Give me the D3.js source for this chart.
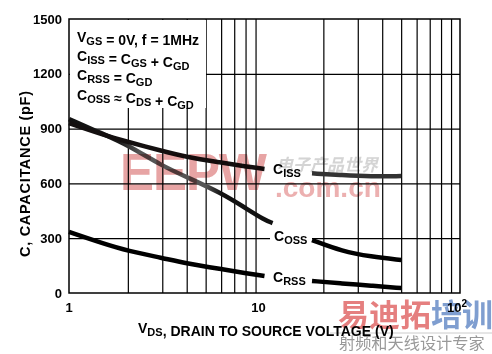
<!DOCTYPE html>
<html>
<head>
<meta charset="utf-8">
<script src="https://cdn.jsdelivr.net/npm/d3@7"></script>
<style>
  body { margin: 0; background: #fff; }
  svg text { font-family: "Liberation Sans", Arial, sans-serif; font-weight: bold; }
</style>
</head>
<body>
<div id="chart"></div>
<script>
// values (VDS in volts, C in pF)
var vdsLeft  = [1, 1.5, 2, 3, 4, 6, 8, 10];
var cissLeft = [930, 866, 827, 777, 744, 714, 692, 679];
var vdsCossLeft = [1, 1.5, 2, 3, 4, 6, 8, 10, 11];
var cossLeft = [952, 870, 810, 695, 635, 548, 465, 400, 383];
var crssLeft = [334, 270, 230, 192, 162, 131, 109, 93];

var vdsRight  = [17.5, 25, 35, 50];
var cissRight = [655, 645, 638, 640];
var cossRight = [290, 228, 199, 181];
var crssRight = [66, 52, 40, 27];

var xGridVals = [2, 3, 4, 5, 6, 7, 8, 9, 20, 30, 40, 50, 60, 70, 80, 90];
var yTicks = [0, 300, 600, 900, 1200, 1500];
var xTickLabels = [{v: 1, t: "1"}, {v: 10, t: "10"}, {v: 100, t: "10", sup: "2"}];

var legendLines = [
    [["V", "GS"], [" = 0V, f = 1MHz", ""]],
    [["C", "ISS"], [" = C", "GS"], [" + C", "GD"]],
    [["C", "RSS"], [" = C", "GD"]],
    [["C", "OSS"], [" \u2248 C", "DS"], [" + C", "GD"]]
];

var W = 492, H = 354,
    pL = 69, pR = 460, pT = 19, pB = 293;

var x = d3.scaleLog().domain([1, 100]).range([pL, pR]),
    y = d3.scaleLinear().domain([0, 1500]).range([pB, pT]);

var svg = d3.select("#chart").append("svg")
    .attr("width", W).attr("height", H);

// grid
svg.append("g")
    .attr("transform", "translate(0," + pB + ")")
    .call(d3.axisBottom(x).tickValues(xGridVals).tickSize(-(pB - pT)).tickFormat(""))
    .call(g => g.select(".domain").remove())
    .selectAll("line").attr("stroke", "#000").attr("stroke-width", 1.2);

svg.append("g")
    .attr("transform", "translate(" + pL + ",0)")
    .call(d3.axisLeft(y).tickValues(yTicks.slice(1, -1)).tickSize(-(pR - pL)).tickFormat(""))
    .call(g => g.select(".domain").remove())
    .selectAll("line").attr("stroke", "#000").attr("stroke-width", 1.2);

svg.append("rect")
    .attr("x", pL).attr("y", pT)
    .attr("width", pR - pL).attr("height", pB - pT)
    .attr("fill", "none").attr("stroke", "#000").attr("stroke-width", 1.5);

// white boxes behind the notes
svg.append("rect").attr("x", pL + 1).attr("y", pT + 1).attr("width", 136).attr("height", 88).attr("fill", "#fff");
svg.append("rect").attr("x", 269).attr("y", 160).attr("width", 40).attr("height", 20).attr("fill", "#fff");
svg.append("rect").attr("x", 270).attr("y", 228).attr("width", 42).attr("height", 20).attr("fill", "#fff");
svg.append("rect").attr("x", 269).attr("y", 266).attr("width", 42).attr("height", 22).attr("fill", "#fff");

// curves
var defs = svg.append("defs");
var grad = defs.append("linearGradient").attr("id", "cossGrad")
    .attr("gradientUnits", "userSpaceOnUse")
    .attr("x1", pL).attr("x2", 270).attr("y1", 0).attr("y2", 0);
[[0, "#111"], [0.25, "#1a1a1a"], [0.35, "#555"], [0.68, "#555"], [0.76, "#111"], [1, "#111"]]
    .forEach(s => grad.append("stop").attr("offset", s[0]).attr("stop-color", s[1]));

var line = d3.line().x(d => x(d[0])).y(d => y(d[1])).curve(d3.curveBasis);
var zip = (a, b) => a.map((v, i) => [v, b[i]]);

var curves = [
    {pts: zip(vdsCossLeft, cossLeft), color: "url(#cossGrad)"},
    {pts: zip(vdsLeft, cissLeft), color: "#141010"},
    {pts: zip(vdsLeft, crssLeft), color: "#000"},
    {pts: zip(vdsRight, cissRight), color: "#333"},
    {pts: zip(vdsRight, cossRight), color: "#000"},
    {pts: zip(vdsRight, crssRight), color: "#000"}
];

svg.selectAll(".curve")
    .data(curves)
    .enter().append("path")
    .attr("class", "curve")
    .attr("d", d => line(d.pts))
    .attr("fill", "none")
    .attr("stroke", d => d.color)
    .attr("stroke-width", 4.5);

// text with subscripts
function richText(g, parts, px, py, big, small) {
    var t = g.append("text").attr("x", px).attr("y", py).attr("font-size", big);
    parts.forEach(p => {
        t.append("tspan").attr("dy", 0).text(p[0]).attr("font-size", big);
        if (p[1]) {
            t.append("tspan").attr("dy", 3).attr("font-size", small).text(p[1]);
            t.append("tspan").attr("dy", -3).text("");
        }
    });
    return t;
}

var notes = svg.append("g");
legendLines.forEach((parts, i) => richText(notes, parts, 77, 42 + i * 19.2, 14, 11));

richText(notes, [["C", "ISS"]], 273, 174, 14, 11);
richText(notes, [["C", "OSS"]], 274, 241, 14, 11);
richText(notes, [["C", "RSS"]], 273, 282, 14, 11);

// tick labels
svg.selectAll(".ylab")
    .data(yTicks)
    .enter().append("text")
    .attr("class", "ylab")
    .attr("x", 62).attr("y", d => y(d))
    .attr("dy", "0.36em")
    .attr("text-anchor", "end")
    .attr("font-size", 13)
    .text(d => d);

var xl = svg.selectAll(".xlab")
    .data(xTickLabels)
    .enter().append("text")
    .attr("class", "xlab")
    .attr("x", d => x(d.v) - (d.v === 10 ? 6 : d.v === 100 ? 3 : 0))
    .attr("y", 312)
    .attr("text-anchor", "middle")
    .attr("font-size", 13);
xl.append("tspan").text(d => d.t);
xl.filter(d => d.sup).append("tspan").attr("dy", -5).attr("font-size", 10).text(d => d.sup);

// axis titles
svg.append("text")
    .attr("transform", "translate(30,174) rotate(-90)")
    .attr("text-anchor", "middle")
    .attr("font-size", 14.5)
    .attr("textLength", 166)
    .text("C, CAPACITANCE (pF)");

richText(svg, [["V", "DS"], [", DRAIN TO SOURCE VOLTAGE (V)", ""]], 138, 333, 14, 11);

// watermarks
var wm = svg.append("g").style("mix-blend-mode", "multiply");
wm.append("text").attr("x", 120).attr("y", 190).attr("font-size", 51)
    .attr("fill", "#e7a4a4").attr("textLength", 147).text("EEPW");
wm.append("text").attr("x", 275).attr("y", 197).attr("font-size", 28)
    .attr("fill", "#ecb0b0").text(".com.cn");
wm.append("text").attr("x", 276).attr("y", 171).attr("font-size", 17)
    .attr("fill", "#d4d4d4").attr("font-style", "italic")
    .style("font-family", "'Noto Sans CJK SC'").text("电子产品世界");
var big = wm.append("text").attr("x", 338).attr("y", 326).attr("font-size", 31)
    .style("font-family", "'Noto Sans CJK SC'");
big.append("tspan").attr("fill", "#e57f7f").text("易迪拓");
big.append("tspan").attr("fill", "#7f9ed0").text("培训");
wm.append("line").attr("x1", 330).attr("x2", 492).attr("y1", 333).attr("y2", 333)
    .attr("stroke", "#ccc").attr("stroke-width", 1);
wm.append("text").attr("x", 339).attr("y", 349).attr("font-size", 16.2)
    .attr("fill", "#999").style("font-weight", "normal")
    .style("font-family", "'Noto Sans CJK SC'").text("射频和天线设计专家");
</script>
</body>
</html>
